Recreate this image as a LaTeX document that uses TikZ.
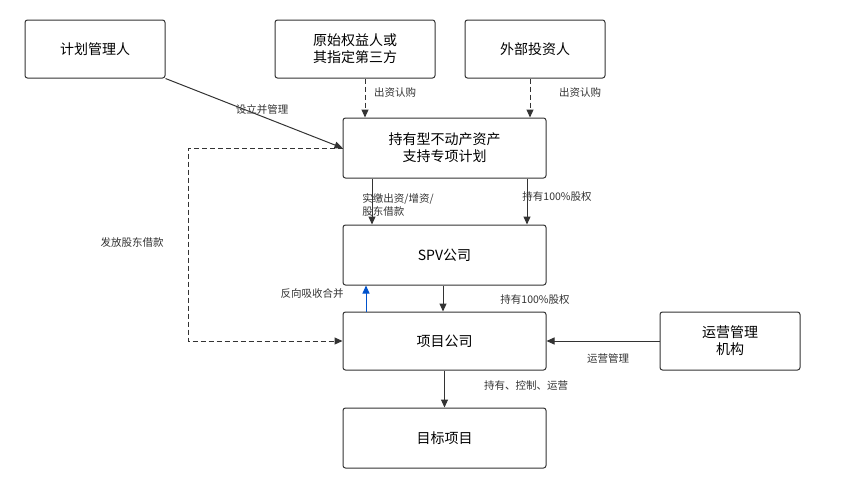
\documentclass[tikz,border=0pt]{standalone}
\usepackage{fontspec}
\setmainfont{Noto Sans CJK SC}
\usetikzlibrary{arrows.meta}
\begin{document}
\begin{tikzpicture}[x=1pt,y=-1pt,
 box/.style={draw=black!80,line width=1pt,rounded corners=2.5pt,minimum width=#1,minimum height=58pt,font=\fontsize{14}{17}\selectfont,align=center,inner sep=0pt},
 box/.default=140pt,
 ar/.style={draw=black!80,line width=1pt,-{Triangle[length=8pt,width=7pt]}},
 da/.style={ar,dash pattern=on 5pt off 3pt},
 lb/.style={font=\fontsize{10.5}{13}\selectfont,text=black!80,align=center,inner sep=0pt}]
\useasboundingbox (0,0) rectangle (843,480);
\node[box] (jh) at (95,49) {计划管理人};
\node[box=160pt] (ys) at (355,49) {原始权益人或\\其指定第三方};
\node[box] (wb) at (535,49) {外部投资人};
\node[box=203pt,minimum height=60pt] (plan) at (444.5,148) {持有型不动产资产\\支持专项计划};
\node[box=203pt,minimum height=60pt] (spv) at (444.5,255) {SPV公司};
\node[box=203pt] (xm) at (444.5,341) {项目公司};
\node[box=203pt,minimum height=60pt] (mb) at (444.5,438) {目标项目};
\node[box] (yy) at (730,341) {运营管理\\机构};
\draw[ar] (jh.south east) -- (plan.west);
\node[lb] at (262,110) {设立并管理};
\draw[da] (ys.south -| 365,0) -- (plan.north -| 365,0);
\node[lb] at (395,93) {出资认购};
\draw[da] (wb.south -| 530,0) -- (plan.north -| 530,0);
\node[lb] at (580,93) {出资认购};
\draw[ar] (plan.south -| 372,0) -- (spv.north -| 372,0);
\node[lb,align=left] at (398,205) {实缴出资/增资/\\股东借款};
\draw[ar] (plan.south -| 527,0) -- (spv.north -| 527,0);
\node[lb] at (557,197) {持有100\%股权};
\draw[ar] (spv.south -| 443,0) -- (xm.north -| 443,0);
\node[lb] at (535,300) {持有100\%股权};
\draw[ar,draw=blue!60!cyan!80!black,-{Triangle[length=8pt,width=7pt]}] (xm.north -| 366,0) -- (spv.south -| 366,0);
\node[lb] at (312,294) {反向吸收合并};
\draw[ar] (yy) -- (xm);
\node[lb] at (608,359) {运营管理};
\draw[ar] (xm) -- (mb);
\node[lb] at (526,386) {持有、控制、运营};
\coordinate (c1) at (188,148);
\coordinate (c2) at (188,341);
\draw[da] (plan.west) -- (c1) -- (c2) -- (xm.west);
\node[lb] at (132,242) {发放股东借款};
\end{tikzpicture}
\end{document}
